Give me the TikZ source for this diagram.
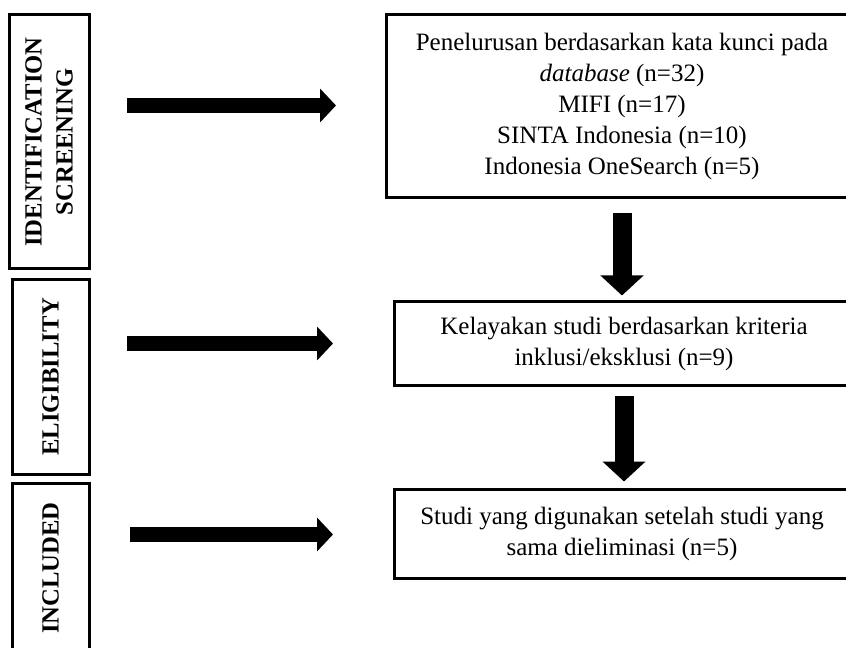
\documentclass[tikz,border=0pt]{standalone}
\usepackage{fontspec}
\setmainfont{Liberation Serif}
\usepackage{tikz}
\usetikzlibrary{positioning,calc}
\usetikzlibrary{arrows.meta}
\tikzstyle{sidearrow} = [line width=11.25pt,-{Triangle[length=12pt,width=24.75pt]}]
\tikzstyle{downarrow} = [line width=14.25pt,-{Triangle[length=15pt,width=31.5pt]}]

\begin{document}
\begin{tikzpicture}[x=0.75pt,y=-0.75pt,
	phase/.style={draw, line width=2.25pt, rotate=90, inner sep=0pt, align=center, font=\fontsize{18.5pt}{23.25pt}\selectfont\bfseries},
	stage/.style={draw, line width=2.25pt, inner sep=0pt, align=center, font=\fontsize{18.75pt}{23.25pt}\selectfont}]
			
			\useasboundingbox (0,0) rectangle (846,648);
			
			% PHASES
			
			\node [phase, minimum width=190.5pt, minimum height=60pt] (identification) at (49,142) {IDENTIFICATION\\SCREENING};
			\node [phase, minimum width=145.5pt, minimum height=57.75pt] (eligibility) at (50.5,377) {ELIGIBILITY};
			\node [phase, minimum width=127.5pt, minimum height=57.75pt] (included) at (50.5,568) {INCLUDED};
			
			% STAGES
			
			\node [stage, minimum width=354pt, minimum height=137.25pt] (search) at (622,106.5)
			{Penelurusan berdasarkan kata kunci pada\\
				\textit{database} (n=32)\\
				MIFI (n=17)\\
				SINTA Indonesia (n=10)\\
				Indonesia OneSearch (n=5)};
			\node [stage, minimum width=345pt, minimum height=63pt] (kelayakan) at (624,344)
			{Kelayakan studi berdasarkan kriteria\\inklusi/eksklusi (n=9)};
			\node [stage, minimum width=341.25pt, minimum height=66.75pt] (studi) at (622,533.5)
			{Studi yang digunakan setelah studi yang\\sama dieliminasi (n=5)};
			
			% ARROWS
			
			\coordinate (from1) at (127,105.5);
			\coordinate (to1) at (336,105.5);
			\coordinate (from2) at (127,343.5);
			\coordinate (to2) at (333,343.5);
			\coordinate (from3) at (130,534.5);
			\coordinate (to3) at (333,534.5);
			
			\draw [sidearrow] (from1) -- (to1);
			\draw [sidearrow] (from2) -- (to2);
			\draw [sidearrow] (from3) -- (to3);
			
			\draw [downarrow] ([yshift=-10.5pt]search.south) -- ([yshift=3.75pt]kelayakan.north -| search.south);
			\draw [downarrow] ([yshift=-6.75pt]kelayakan.south) -- ([yshift=4.5pt]studi.north -| kelayakan.south);
			
			\end{tikzpicture}
\end{document}
